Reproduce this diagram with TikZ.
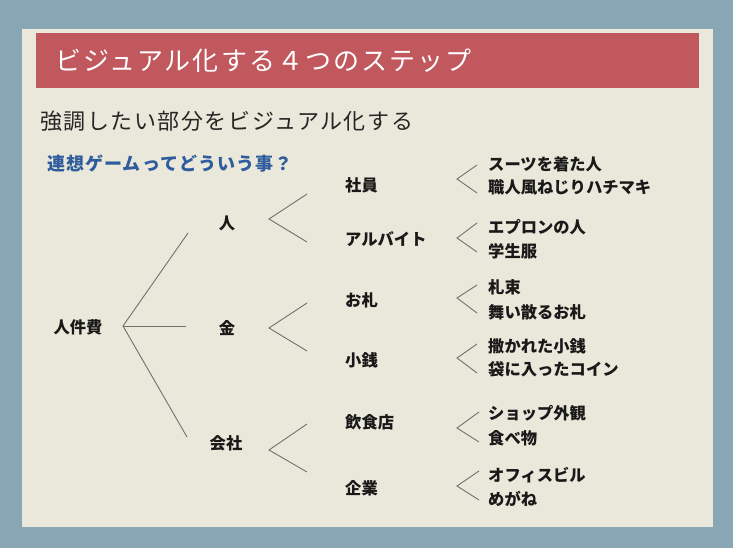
\documentclass[tikz,border=0pt]{standalone}
\usepackage{fontspec}
\setmainfont{Noto Sans CJK JP}
\newfontfamily\jp{Noto Sans CJK JP}
\definecolor{frameblue}{HTML}{88A6B4}
\definecolor{panel}{HTML}{E9E8DA}
\definecolor{titlered}{HTML}{C0585E}
\definecolor{qblue}{HTML}{2F5C9C}
\definecolor{linegray}{HTML}{6E716C}
\tikzset{
  lbl/.style={anchor=west,inner sep=0pt,font=\jp\bfseries\fontsize{16.3}{16.3}\selectfont,text=black!90},
  mid/.style={anchor=center,inner sep=0pt,font=\jp\bfseries\fontsize{16.3}{16.3}\selectfont,text=black!90},
  conn/.style={draw=linegray,line width=0.9pt},
}
\begin{document}
\begin{tikzpicture}[x=1pt,y=-1pt]
\useasboundingbox (0,0) rectangle (733,548);
\fill[frameblue] (0,0) rectangle (733,548);
\fill[panel] (22,29) rectangle (713,527);
\fill[titlered] (36,33) rectangle (699,88);
\node[anchor=west,inner sep=0pt,text=white,font=\jp\fontsize{26}{26}\selectfont\addfontfeature{LetterSpace=8}] (title) at (55,61) {ビジュアル化する４つのステップ};
\node[anchor=west,inner sep=0pt,text=black!85,font=\jp\fontsize{22}{22}\selectfont\addfontfeature{LetterSpace=7}] (sub) at (40,121) {強調したい部分をビジュアル化する};
\node[anchor=west,inner sep=0pt,text=qblue,font=\jp\bfseries\fontsize{18}{18}\selectfont\addfontfeature{LetterSpace=6}] (q) at (47,164) {連想ゲームってどういう事？};

% level 0 and 1
\node[mid] (root) at (78,327) {人件費};
\node[mid] (hito) at (227,223) {人};
\node[mid] (kane) at (227,328) {金};
\node[mid] (kaisha) at (226,443) {会社};

\coordinate (r0) at (123,326);
\coordinate (r1) at (188,233);
\coordinate (r2) at (186,326);
\coordinate (r3) at (187,437);
\draw[conn] (r1) -- (r0) -- (r3);
\draw[conn] (r0) -- (r2);

% level 1 wedges
\coordinate (h0) at (269,219); \coordinate (h1) at (307,194); \coordinate (h2) at (307,242);
\coordinate (k0) at (269,328); \coordinate (k1) at (307,303); \coordinate (k2) at (307,351);
\coordinate (c0) at (269,450); \coordinate (c1) at (307,424); \coordinate (c2) at (307,472);
\draw[conn] (h1) -- (h0) -- (h2);
\draw[conn] (k1) -- (k0) -- (k2);
\draw[conn] (c1) -- (c0) -- (c2);

% level 2
\node[lbl] (shain) at (345,185) {社員};
\node[lbl] (arubaito) at (345,239) {アルバイト};
\node[lbl] (osatsu) at (345,300) {お札};
\node[lbl] (kozeni) at (345,360) {小銭};
\node[lbl] (inshoku) at (345,422) {飲食店};
\node[lbl] (kigyo) at (345,488) {企業};

% level 2 wedges
\coordinate (a0) at (457,179); \coordinate (a1) at (477,165); \coordinate (a2) at (477,193);
\coordinate (b0) at (457,238); \coordinate (b1) at (477,223); \coordinate (b2) at (477,252);
\coordinate (d0) at (457,298); \coordinate (d1) at (477,285); \coordinate (d2) at (477,313);
\coordinate (e0) at (457,358); \coordinate (e1) at (477,344); \coordinate (e2) at (477,373);
\coordinate (f0) at (457,428); \coordinate (f1) at (479,412); \coordinate (f2) at (479,442);
\coordinate (g0) at (457,486); \coordinate (g1) at (479,471); \coordinate (g2) at (479,500);
\foreach \w in {a,b,d,e,f,g}{\draw[conn] (\w1) -- (\w0) -- (\w2);}

% leaves
\node[lbl] (l1) at (488,164) {スーツを着た人};
\node[lbl] (l2) at (488,187) {職人風ねじりハチマキ};
\node[lbl] (l3) at (488,227) {エプロンの人};
\node[lbl] (l4) at (488,251) {学生服};
\node[lbl] (l5) at (488,287) {札束};
\node[lbl] (l6) at (488,312) {舞い散るお札};
\node[lbl] (l7) at (488,346) {撒かれた小銭};
\node[lbl] (l8) at (488,369) {袋に入ったコイン};
\node[lbl] (l9) at (488,413) {ショップ外観};
\node[lbl] (l10) at (488,438) {食べ物};
\node[lbl] (l11) at (488,475) {オフィスビル};
\node[lbl] (l12) at (488,499) {めがね};
\end{tikzpicture}
\end{document}
